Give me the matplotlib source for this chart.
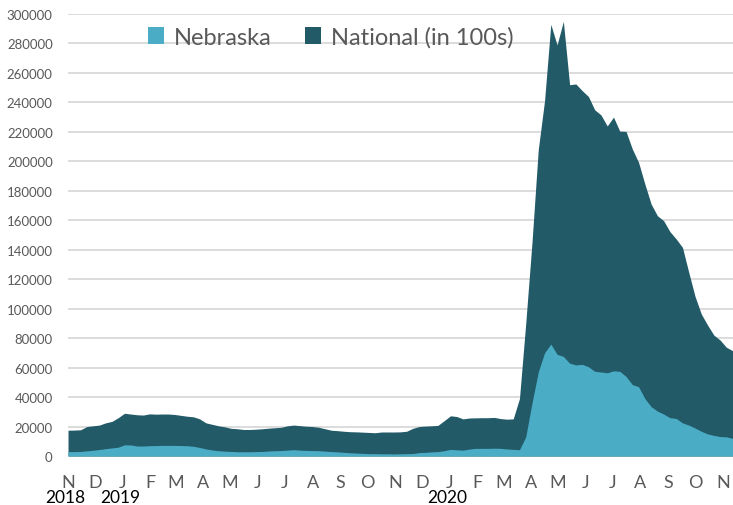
import numpy as np
import pandas as pd
import matplotlib
matplotlib.use("Agg")
import matplotlib.pyplot as plt
import matplotlib.transforms as mtransforms

# weekly continued claims, Nov 2018 - Nov 2020
start = "2018-11-01"
national = [
    17500, 17600, 17800, 20000, 20500, 21000, 22500, 23500, 26000, 29000,
    28500, 28000, 27800, 28600, 28400, 28500, 28500, 28200, 27600, 27000,
    26600, 25200, 22500, 21500, 20500, 19800, 18800, 18500, 18000, 18000,
    18200, 18500, 18900, 19200, 19500, 20500, 21000, 20600, 20200, 20000,
    19500, 18500, 17500, 17200, 16800, 16500, 16400, 16200, 16000, 15800,
    16300, 16300, 16300, 16400, 16800, 18800, 20000, 20300, 20500, 20800,
    24000, 27300, 26800, 25200, 25800, 25900, 26000, 26000, 26200, 25400,
    25000, 25200, 39000, 90000, 145000, 208000, 241000, 293000, 279000, 295000,
    252000, 252500, 248000, 244000, 235000, 231500, 224000, 230000, 220500, 220300,
    208400, 199300, 184600, 171000, 163100, 159700, 152300, 147300, 141600, 124700,
    108400, 96400, 88900, 82100, 78700, 73800, 71500,
]
nebraska = [
    3000, 3000, 3100, 3500, 3900, 4400, 5000, 5500, 6000, 7600,
    7500, 6800, 6800, 7000, 7100, 7200, 7200, 7200, 7100, 7000,
    6600, 5800, 4800, 4100, 3600, 3300, 3100, 2900, 2900, 2900,
    3000, 3100, 3400, 3600, 3700, 4000, 4300, 4000, 3800, 3700,
    3600, 3300, 3000, 2800, 2500, 2200, 2000, 1800, 1600, 1600,
    1500, 1500, 1400, 1500, 1600, 1700, 2300, 2500, 2800, 3000,
    3600, 4500, 4200, 4000, 4700, 5200, 5200, 5200, 5300, 5200,
    4800, 4500, 4300, 13000, 36000, 57000, 70000, 76000, 69000, 67600,
    63000, 61800, 62200, 60600, 57500, 57000, 56500, 57800, 57500, 54000,
    48500, 47000, 39000, 33500, 30500, 28500, 26000, 25500, 22500, 21000,
    19000, 16800, 15000, 14000, 13200, 13000, 12000,
]
year_labels = {"2018-11-01": "2018", "2019-01-01": "2019", "2020-01-01": "2020"}

weeks = pd.date_range(start, periods=len(national), freq="7D")
months = pd.date_range("2018-11-01", "2020-11-01", freq="MS")

plt.rcParams["font.family"] = ["Lato", "DejaVu Sans"]

fig, ax = plt.subplots(figsize=(7.33, 5.06), dpi=100)
fig.subplots_adjust(left=0.0928, right=0.9995, top=0.9704, bottom=0.0968)

ax.fill_between(weeks, 0, national, color="#225a68", lw=0, label="National (in 100s)", zorder=2)
ax.fill_between(weeks, 0, nebraska, color="#4bacc6", lw=0, label="Nebraska", zorder=3)

ax.set_xlim(weeks[0], weeks[-1])
ax.set_ylim(0, 300000)
ax.set_yticks(np.arange(0, 300001, 20000))
ax.yaxis.grid(True, color="#d9d9d9", lw=1.3, zorder=0)
ax.set_axisbelow(True)
for s in ax.spines.values():
    s.set_visible(False)

ax.set_xticks(months)
ax.set_xticklabels([m.strftime("%b")[0] for m in months])
ax.tick_params(axis="x", length=0, pad=13, labelsize=13, labelcolor="#595959")
ax.tick_params(axis="y", length=0, pad=11, labelsize=9.5, labelcolor="#595959")

trans = mtransforms.blended_transform_factory(ax.transData, ax.transAxes)
for d, yr in year_labels.items():
    ax.text(pd.Timestamp(d) - pd.Timedelta(days=3), -0.092, yr, transform=trans,
            ha="center", va="center", fontsize=12.5, color="black")

handles, labels = ax.get_legend_handles_labels()
ax.legend(handles[::-1], labels[::-1], loc="center", bbox_to_anchor=(0.395, 0.948),
          ncol=2, frameon=False, fontsize=17, labelcolor="#595959",
          handlelength=0.7, handleheight=0.7, handletextpad=0.4, columnspacing=1.4)

fig.savefig("out.png", dpi=100)
